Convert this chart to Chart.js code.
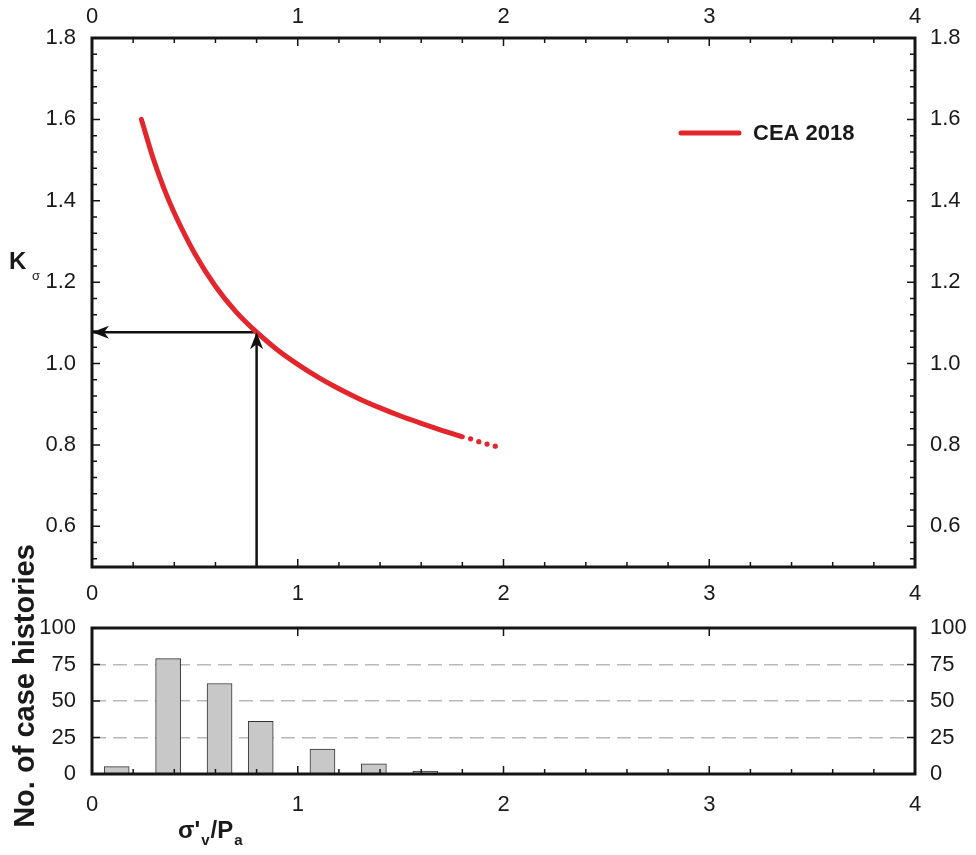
<!DOCTYPE html>
<html>
<head>
<meta charset="utf-8">
<script src="https://cdn.jsdelivr.net/npm/chart.js@4.4.1/dist/chart.umd.min.js"></script>
<style>
  body { margin: 0; background: #fff; }
  #wrap { position: relative; width: 976px; height: 855px; background: #fff; }
  canvas { position: absolute; left: 0; }
</style>
</head>
<body>
<div id="wrap">
  <canvas id="main-chart" width="976" height="610" style="top:0"></canvas>
  <canvas id="count-chart" width="976" height="325" style="top:530px"></canvas>
</div>
<script>
//#region Datos
// curva CEA 2018, tramo continuo
var stressRatio = [0.24, 0.3, 0.35, 0.4, 0.5, 0.6, 0.7, 0.8, 0.9, 1.0, 1.1, 1.2, 1.3, 1.4, 1.5, 1.6, 1.7, 1.8];
var kSigma = [1.60, 1.50, 1.43, 1.37, 1.27, 1.19, 1.127, 1.077, 1.034, 0.998, 0.966, 0.938, 0.913, 0.891, 0.871, 0.853, 0.836, 0.82];
// tramo punteado
var tailRatio = [1.84, 1.88, 1.92, 1.96];
var tailK = [0.815, 0.808, 0.802, 0.797];
// flechas de lectura
var arrowUpX = [0.8, 0.8];
var arrowUpY = [0.5, 1.077];
var arrowLeftX = [0.8, 0];
var arrowLeftY = [1.077, 1.077];
// histograma
var binCenters = [0.12, 0.37, 0.62, 0.82, 1.12, 1.37, 1.62];
var caseCounts = [5, 79, 62, 36, 17, 7, 2];
// ejes
var xTicks = [0, 1, 2, 3, 4];
var kTicks = [0.6, 0.8, 1.0, 1.2, 1.4, 1.6, 1.8];
var countTicks = [0, 25, 50, 75, 100];
//#endregion

function toPoints(xs, ys) {
    return xs.map(function (x, i) { return { x: x, y: ys[i] }; });
}

Chart.defaults.font.family = "'Liberation Sans', Arial, sans-serif";
Chart.defaults.color = '#1a1a1a';
Chart.defaults.animation = false;

// marco y marcas interiores
var framePlugin = {
    id: 'frame',
    afterDatasetsDraw: function (chart, args, opts) {
        var ctx = chart.ctx, a = chart.chartArea;
        var xs = chart.scales.x, ys = chart.scales.y;
        var near = function (v, list) { return list.some(function (m) { return Math.abs(m - v) < 1e-6; }); };
        var minors = function (scale, step) {
            var out = [];
            if (!step) return out;
            for (var k = Math.ceil(scale.min / step - 1e-9); k * step <= scale.max + 1e-9; k++) out.push(k * step);
            return out;
        };
        var xMaj = xs.ticks.map(function (t) { return t.value; });
        var yMaj = ys.ticks.map(function (t) { return t.value; });
        ctx.save();
        ctx.strokeStyle = '#151515';
        ctx.lineWidth = 1.5;
        ctx.beginPath();
        xMaj.concat(minors(xs, opts.xMinor).filter(function (v) { return !near(v, xMaj); })).forEach(function (v) {
            var major = near(v, xMaj), len = major ? 8 : 5, px = xs.getPixelForValue(v);
            ctx.moveTo(px, a.bottom); ctx.lineTo(px, a.bottom - len);
            if (major || opts.topMinor) { ctx.moveTo(px, a.top); ctx.lineTo(px, a.top + len); }
        });
        yMaj.concat(minors(ys, opts.yMinor).filter(function (v) { return !near(v, yMaj); })).forEach(function (v) {
            var len = near(v, yMaj) ? 8 : 5, py = ys.getPixelForValue(v);
            ctx.moveTo(a.left, py); ctx.lineTo(a.left + len, py);
            ctx.moveTo(a.right, py); ctx.lineTo(a.right - len, py);
        });
        ctx.stroke();
        ctx.lineWidth = 3;
        ctx.strokeRect(a.left, a.top, a.right - a.left, a.bottom - a.top);
        ctx.restore();
    }
};

// punta de flecha al final de los datasets marcados
var arrowPlugin = {
    id: 'arrowHeads',
    afterDatasetsDraw: function (chart) {
        var ctx = chart.ctx;
        chart.data.datasets.forEach(function (ds, i) {
            if (!ds.arrowHead) return;
            var pts = chart.getDatasetMeta(i).data;
            var p1 = pts[pts.length - 2], p2 = pts[pts.length - 1];
            var ang = Math.atan2(p2.y - p1.y, p2.x - p1.x);
            ctx.save();
            ctx.translate(p2.x, p2.y);
            ctx.rotate(ang);
            ctx.fillStyle = '#111';
            ctx.beginPath();
            ctx.moveTo(0, 0);
            ctx.lineTo(-17, -6.5);
            ctx.lineTo(-12, 0);
            ctx.lineTo(-17, 6.5);
            ctx.closePath();
            ctx.fill();
            ctx.restore();
        });
    }
};

var fixSize = function (w, h) {
    return function (scale) {
        if (w) scale.width = w;
        if (h) scale.height = h;
    };
};
var setTicks = function (list) {
    return function (scale) { scale.ticks = list.map(function (v) { return { value: v }; }); };
};
var noGrid = { display: false, drawTicks: false };

//#region Grafico principal
var mainCtx = document.querySelector('#main-chart').getContext('2d');
var mainChart = new Chart(mainCtx, {
    type: 'line',
    data: {
        datasets: [{
            label: 'CEA 2018',
            data: toPoints(stressRatio, kSigma),
            borderColor: '#e3262b',
            borderWidth: 5,
            borderCapStyle: 'round',
            cubicInterpolationMode: 'monotone',
            pointRadius: 0
        }, {
            label: 'CEA 2018 (ext.)',
            data: toPoints(tailRatio, tailK),
            showLine: false,
            pointRadius: 2.6,
            pointBorderWidth: 0,
            pointBackgroundColor: '#e3262b'
        }, {
            label: 'up',
            data: toPoints(arrowUpX, arrowUpY),
            borderColor: '#111',
            borderWidth: 2.5,
            pointRadius: 0,
            arrowHead: true
        }, {
            label: 'left',
            data: toPoints(arrowLeftX, arrowLeftY),
            borderColor: '#111',
            borderWidth: 2.5,
            pointRadius: 0,
            arrowHead: true
        }]
    },
    options: {
        responsive: false,
        events: [],
        layout: { padding: 0 },
        plugins: {
            legend: { display: false },
            tooltip: { enabled: false },
            frame: { xMinor: 0.2, yMinor: 0.04, topMinor: true }
        },
        scales: {
            x: {
                type: 'linear', position: 'bottom', min: 0, max: 4,
                afterFit: fixSize(null, 43),
                afterBuildTicks: setTicks(xTicks),
                grid: noGrid, border: { display: false },
                ticks: { padding: 14, font: { size: 22 } }
            },
            xTop: {
                type: 'linear', position: 'top', min: 0, max: 4,
                afterFit: fixSize(null, 38),
                afterBuildTicks: setTicks(xTicks),
                grid: noGrid, border: { display: false },
                ticks: { padding: 8, font: { size: 22 } }
            },
            y: {
                type: 'linear', position: 'left', min: 0.5, max: 1.8,
                afterFit: fixSize(92, null),
                afterBuildTicks: setTicks(kTicks),
                grid: noGrid, border: { display: false },
                ticks: { padding: 16, font: { size: 22 }, callback: function (v) { return v.toFixed(1); } }
            },
            yRight: {
                type: 'linear', position: 'right', min: 0.5, max: 1.8,
                afterFit: fixSize(61, null),
                afterBuildTicks: setTicks(kTicks),
                grid: noGrid, border: { display: false },
                ticks: { padding: 15, font: { size: 22 }, callback: function (v) { return v.toFixed(1); } }
            }
        }
    },
    plugins: [framePlugin, arrowPlugin, {
        id: 'mainText',
        afterDraw: function (chart) {
            var ctx = chart.ctx;
            ctx.save();
            // leyenda
            ctx.strokeStyle = '#e3262b';
            ctx.lineWidth = 5;
            ctx.lineCap = 'round';
            ctx.beginPath();
            ctx.moveTo(681, 133); ctx.lineTo(739, 133);
            ctx.stroke();
            ctx.fillStyle = '#1a1a1a';
            ctx.textBaseline = 'middle';
            ctx.font = "bold 22px 'Liberation Sans', Arial, sans-serif";
            ctx.fillText('CEA 2018', 753, 134);
            // titulo eje y
            ctx.textBaseline = 'alphabetic';
            ctx.font = "bold 24px 'Liberation Sans', Arial, sans-serif";
            ctx.fillText('K', 9, 269);
            ctx.font = "13px 'Liberation Sans', Arial, sans-serif";
            ctx.fillText('σ', 32, 280);
            ctx.restore();
        }
    }]
});
//#endregion

//#region Histograma
var countCtx = document.querySelector('#count-chart').getContext('2d');
var countChart = new Chart(countCtx, {
    type: 'bar',
    data: {
        datasets: [{
            label: 'No. of case histories',
            data: toPoints(binCenters, caseCounts),
            backgroundColor: '#c8c8c8',
            borderColor: '#333',
            borderWidth: 1,
            barThickness: 25
        }]
    },
    options: {
        responsive: false,
        events: [],
        layout: { padding: 0 },
        plugins: {
            legend: { display: false },
            tooltip: { enabled: false },
            frame: { xMinor: 0.2, yMinor: null, topMinor: false }
        },
        scales: {
            x: {
                type: 'linear', position: 'bottom', min: 0, max: 4, offset: false,
                afterFit: fixSize(null, 81),
                afterBuildTicks: setTicks(xTicks),
                grid: noGrid, border: { display: false },
                ticks: { padding: 18, font: { size: 22 } }
            },
            xTop: {
                type: 'linear', position: 'top', min: 0, max: 4,
                afterFit: fixSize(null, 98),
                grid: noGrid, border: { display: false },
                ticks: { display: false }
            },
            y: {
                type: 'linear', position: 'left', min: 0, max: 100,
                afterFit: fixSize(92, null),
                afterBuildTicks: setTicks(countTicks),
                grid: {
                    drawTicks: false,
                    lineWidth: 1.5,
                    color: function (c) {
                        return (c.tick && c.tick.value > 0 && c.tick.value < 100) ? '#b8b8b8' : 'rgba(0,0,0,0)';
                    }
                },
                border: { display: false, dash: [14, 7] },
                ticks: { padding: 16, font: { size: 22 } }
            },
            yRight: {
                type: 'linear', position: 'right', min: 0, max: 100,
                afterFit: fixSize(61, null),
                afterBuildTicks: setTicks(countTicks),
                grid: noGrid, border: { display: false },
                ticks: { padding: 15, font: { size: 22 } }
            }
        }
    },
    plugins: [framePlugin, {
        id: 'countText',
        afterDraw: function (chart) {
            var ctx = chart.ctx;
            var big = "bold 24px 'Liberation Sans', Arial, sans-serif";
            var small = "bold 15px 'Liberation Sans', Arial, sans-serif";
            ctx.save();
            ctx.fillStyle = '#1a1a1a';
            // titulo eje x con subindices
            var x = 178;
            [['σ\'', big, 308], ['v', small, 315], ['/P', big, 308], ['a', small, 315]].forEach(function (p) {
                ctx.font = p[1];
                ctx.fillText(p[0], x, p[2]);
                x += ctx.measureText(p[0]).width + 1;
            });
            // titulo eje y, girado
            ctx.translate(34, 156);
            ctx.rotate(-Math.PI / 2);
            ctx.textAlign = 'center';
            ctx.font = "bold 29px 'Liberation Sans', Arial, sans-serif";
            ctx.fillText('No. of case histories', 0, 0);
            ctx.restore();
        }
    }]
});
//#endregion
</script>
</body>
</html>
